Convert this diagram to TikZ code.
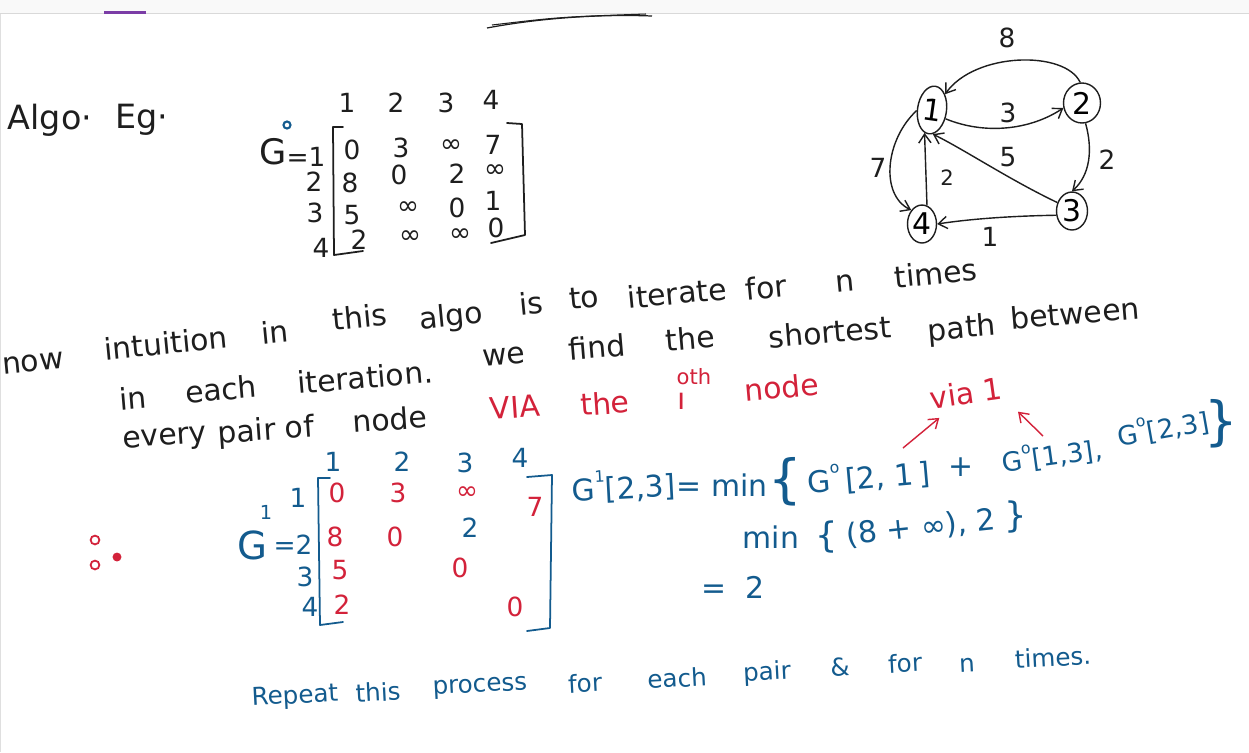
\documentclass[tikz,border=0pt]{standalone}
\usepackage{fontspec}
\setmainfont{DejaVu Sans}
\usepackage{xcolor}
\definecolor{inkblk}{HTML}{1E1E1E}
\definecolor{inkblu}{HTML}{135B8E}
\definecolor{inkred}{HTML}{D3223A}
\definecolor{tabpur}{HTML}{7B3DA6}
\usepackage{tikz}
\usetikzlibrary{arrows.meta,positioning,shapes.geometric,calc}
\newcommand\hsup[1]{\raisebox{1.1ex}{\fontsize{9}{9}\selectfont#1}}

\begin{document}
\begin{tikzpicture}[x=0.02cm,y=-0.02cm,
  hand/.style={inner sep=0pt,text=inkblk,font=\fontsize{17}{20}\selectfont},
  bhand/.style={hand,text=inkblu},
  rhand/.style={hand,text=inkred},
  lowhand/.style={hand,text=inkblu,font=\fontsize{14}{16}\selectfont},
  num/.style={inner sep=0pt,text=inkblk,font=\fontsize{15}{18}\selectfont},
  bnum/.style={num,text=inkblu},
  rnum/.style={num,text=inkred},
  vtx/.style={draw=inkblk,line width=0.8pt,ellipse,inner sep=0pt,font=\fontsize{17}{20}\selectfont},
  arr/.style={draw=inkblk,line width=0.8pt,-{Straight Barb[length=5pt,width=7pt]}},
  redarr/.style={draw=inkred,line width=0.8pt,-{Straight Barb[length=5pt,width=7pt]}},
  brk/.style={line width=1pt,line cap=round,line join=round},
  dotmark/.style={draw=inkred,line width=1pt,circle,inner sep=0pt,minimum size=5pt}]
\fill[white] (0,0) rectangle (1249,752);
\useasboundingbox (0,0) rectangle (1249,752);
\fill[gray!5] (0,0) rectangle (1249,13);
\draw[gray!30] (0,13.5) -- (1249,13.5);
\draw[gray!25] (0.5,14) -- (0.5,752);
\fill[tabpur] (104,10.5) rectangle (146,14);
\draw[inkblk,line width=0.7pt] (487,28) .. controls (540,18) and (600,14) .. (652,16);
\draw[inkblk,line width=0.6pt] (492,25) .. controls (560,17) .. (646,14);

\node[hand,font=\fontsize{19}{22}\selectfont] (algo) at (50,120) {Algo·};
\node[hand,font=\fontsize{19}{22}\selectfont] (eg) at (142,120) {Eg·};

% G^0
\node[hand,font=\fontsize{20}{24}\selectfont] (g0) at (273,152) {G};
\node[draw=inkblu,line width=1.2pt,circle,inner sep=0pt,minimum size=4pt] (g0sup) at (287,125) {};
\node[num] (g0eq) at (306,157) {=1};
\foreach \x/\y/\t [count=\i] in {314/182/2, 315/213/3, 321/248/4}
  \node[num] (r\i) at (\x,\y) {\t};
\foreach \x/\y/\t [count=\i] in {347/103/1, 396/103/2, 446/103/3, 491/100/4}
  \node[num] (c\i) at (\x,\y) {\t};
\foreach \x/\y/\t [count=\i] in {352/150/0, 401/148/3, 451/146/∞, 493/145/7,
    350/183/8, 399/175/0, 457/174/2, 495/171/∞,
    352/215/5, 408/208/∞, 457/208/0, 493/201/1,
    359/240/2, 410/237/∞, 460/235/∞, 496/228/0}
  \node[num] (a\i) at (\x,\y) {\t};
\draw[brk,inkblk] (343,127) -- (333,127) -- (334,255) -- (363,251);
\draw[brk,inkblk] (507,123) -- (522,124) -- (525,235) -- (491,243);

% graph
\node[vtx,minimum width=0.58cm,minimum height=0.96cm,rotate=-8] (v1) at (932,110) {1};
\node[vtx,minimum width=0.74cm,minimum height=0.8cm] (v2) at (1082,103) {2};
\node[vtx,minimum width=0.62cm,minimum height=0.76cm] (v3) at (1072,211) {3};
\node[vtx,minimum width=0.58cm,minimum height=0.76cm] (v4) at (922,224) {4};
\draw[arr] (v2.95) .. controls (1065,50) and (975,52) .. (v1.north east);
\draw[arr] (v1.-25) .. controls (985,135) and (1030,130) .. (v2.-165);
\draw[arr] (v3.150) .. controls (1010,180) and (965,150) .. (v1.-80);
\draw[arr] (v2.-80) .. controls (1093,150) and (1090,175) .. (v3.north);
\draw[arr] (v1.190) .. controls (885,140) and (880,195) .. (v4.north west);
\draw[arr] (v4.75) -- (v1.-100);
\draw[arr] (v3.195) .. controls (1010,216) and (970,219) .. (v4.east);
\node[num] (w21) at (1007,38) {8};
\node[num] (w12) at (1008,113) {3};
\node[num] (w31) at (1008,157) {5};
\node[num] (w23) at (1107,160) {2};
\node[num] (w14) at (878,168) {7};
\node[num,font=\fontsize{12}{14}\selectfont] (w41) at (947,178) {2};
\node[num] (w34) at (990,237) {1};

% text lines
\foreach \x/\y/\t [count=\i] in {33/363/now, 166/343/intuition, 275/332/in, 360/317/this,
    451/318/algo, 531/303/is, 584/298/to, 677/293/iterate, 766/287/for, 845/283/n, 936/273/times}
  \node[hand,rotate=5.5] (la\i) at (\x,\y) {\t};
\foreach \x/\y/\t [count=\i] in {133/398/in, 221/389/each, 365/377/iteration., 504/357/we,
    597/347/find, 690/338/the, 830/332/shortest, 962/330/path, 1075/313/between}
  \node[hand,rotate=4.8] (lb\i) at (\x,\y) {\t};
\node[hand,rotate=4] (lc1) at (165,440) {every};
\node[hand,rotate=4] (lc2) at (266,432) {pair of};
\node[hand,rotate=4] (lc3) at (390,419) {node};
\node[rhand,rotate=4] (lc4) at (515,407) {VIA};
\node[rhand,rotate=4] (lc5) at (605,403) {the};
\node[rhand] (lc6) at (682,401) {ı};
\node[rhand,font=\fontsize{12}{14}\selectfont] (lc7) at (694,377) {oth};
\node[rhand,rotate=5] (lc8) at (782,387) {node};

% G^1
\node[dotmark,minimum size=5pt] (th1) at (95,540) {};
\node[dotmark,minimum size=5pt] (th2) at (95,565) {};
\node[dotmark,fill=inkred,minimum size=4pt] (th3) at (117,557) {};
\node[bhand,font=\fontsize{22}{26}\selectfont] (g1) at (252,545) {G};
\node[bnum,font=\fontsize{11}{12}\selectfont] (g1sup) at (266,512) {1};
\node[bnum] (g1eq) at (293,545) {=2};
\foreach \x/\y/\t [count=\i] in {298/498/1, 305/577/3, 310/607/4}
  \node[bnum] (s\i) at (\x,\y) {\t};
\foreach \x/\y/\t [count=\i] in {333/462/1, 402/462/2, 465/463/3, 520/458/4}
  \node[bnum] (d\i) at (\x,\y) {\t};
\foreach \x/\y/\t [count=\i] in {337/493/0, 398/493/3, 467/493/∞, 535/507/7,
    335/537/8, 395/537/0, 340/570/5, 460/568/0, 342/605/2, 515/607/0}
  \node[rnum] (b\i) at (\x,\y) {\t};
\node[bnum] (b11) at (470,528) {2};
\draw[brk,inkblu] (330,478) -- (318,478) -- (320,625) -- (343,622);
\draw[brk,inkblu] (527,477) -- (552,475) -- (550,628) -- (527,631);

% working
\node[bhand,rotate=3] (e1) at (624,486) {G\hsup{1}[2,3]};
\node[bhand] (e2) at (722,485) {= min};
\node[bhand,font=\fontsize{30}{30}\selectfont] (e3) at (785,482) {\{};
\node[bhand,rotate=5] (e4) at (869,477) {G\hsup{o}\,[2, 1\,]};
\node[bhand] (e5) at (961,467) {+};
\node[bhand,rotate=8,font=\fontsize{15}{18}\selectfont] (e6) at (1052,455) {G\hsup{o}[1,3],};
\node[bhand,rotate=10,font=\fontsize{15}{18}\selectfont] (e7) at (1163,428) {G\hsup{o}[2,3]};
\node[bhand,font=\fontsize{30}{30}\selectfont] (e8) at (1221,424) {\}};
\node[bhand] (f1) at (771,537) {min};
\node[bhand,font=\fontsize{20}{20}\selectfont] (f2) at (827,537) {\{};
\node[bhand,rotate=6] (f3) at (921,528) {(8 + ∞), 2};
\node[bhand,font=\fontsize{20}{20}\selectfont] (f4) at (1016,517) {\}};
\node[bhand] (f5) at (733,587) {=\ \ 2};
\node[rhand,rotate=8] (via) at (966,393) {via 1};
\coordinate (p21) at (903,448);
\coordinate (p13) at (1043,436);
\draw[redarr] (p21) -- ($(via.south west)+(8,8)$);
\draw[redarr] (p13) -- ($(via.south east)+(14,12)$);

\foreach \x/\y/\t [count=\i] in {295/697/Repeat, 378/692/this, 480/688/process, 585/683/for,
    677/678/each, 767/673/pair, 840/667/\&, 905/663/for, 967/665/n, 1053/657/times.}
  \node[lowhand,rotate=3] (rp\i) at (\x,\y) {\t};
\end{tikzpicture}
\end{document}
